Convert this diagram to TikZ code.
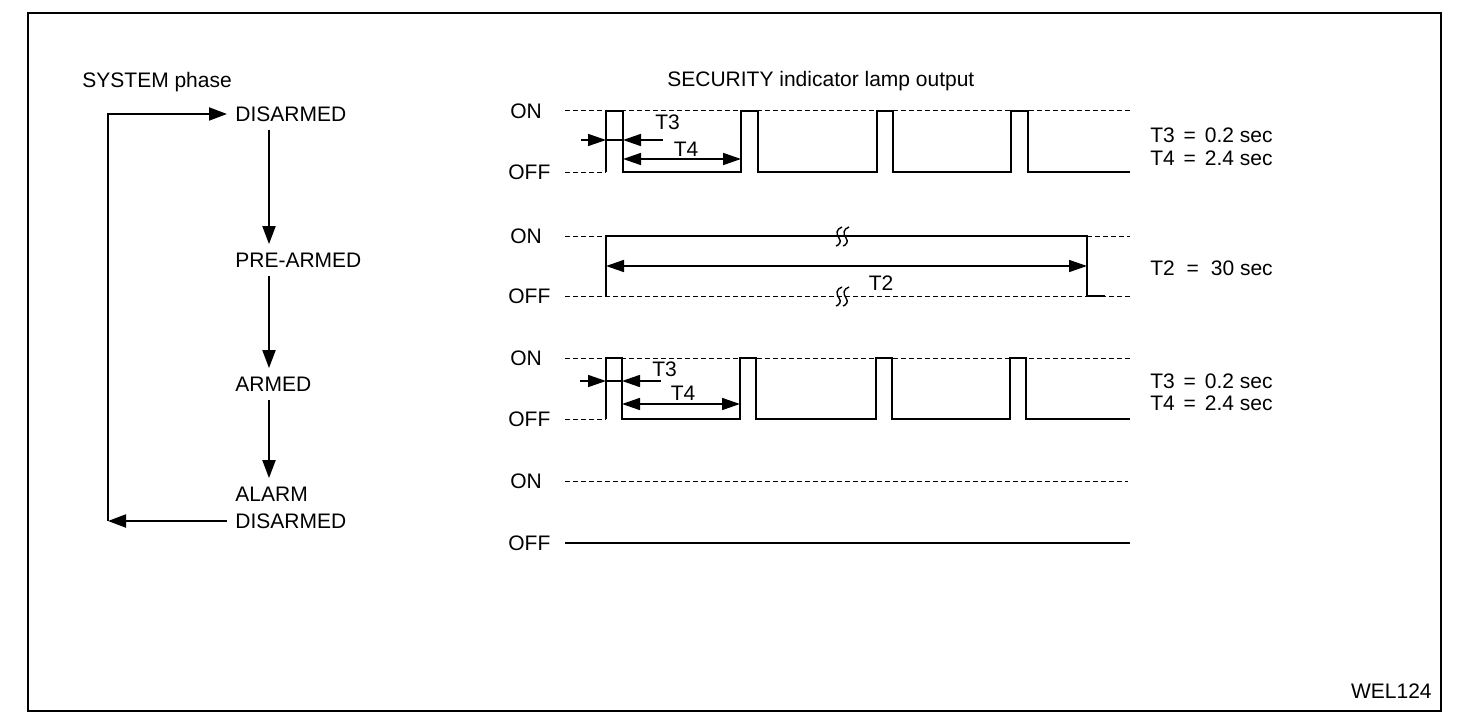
\documentclass[tikz,border=0pt]{standalone}
\usepackage{fontspec}
\setmainfont{Liberation Sans}
\usetikzlibrary{arrows.meta}
\begin{document}
\begin{tikzpicture}[x=0.5pt,y=-0.5pt,
  lbl/.style={font=\fontsize{10.5}{12}\selectfont, inner sep=0pt, anchor=west, text height=7.5pt, text depth=0pt},
  state/.style={lbl, inner xsep=4pt, inner ysep=4pt},
  arr/.style={-{Triangle[length=9pt,width=6.5pt]}, line width=1pt},
  tarr/.style={-{Triangle[length=9pt,width=6pt]}, line width=0.8pt},
  darr/.style={{Triangle[length=9pt,width=6pt]}-{Triangle[length=9pt,width=6pt]}, line width=0.8pt},
  refline/.style={line width=0.5pt, dash pattern=on 2.5pt off 1.5pt},
  wave/.style={line width=1pt, line join=miter},
  brk/.pic={
    \draw[line width=0.7pt] (-1,-9) .. controls (-7,-7) and (-7,-2) .. (-4,2) .. controls (-1,6) and (-4,9) .. (-7,10);
    \draw[line width=0.7pt] (6,-9) .. controls (0,-7) and (0,-2) .. (3,2) .. controls (6,6) and (3,9) .. (0,10);
  }
]
\useasboundingbox (0,0) rectangle (1472,722);
\draw[line width=1pt] (28,13) rectangle (1441,711);

% ---- SYSTEM phase ----
\node[lbl] (sys) at (82,80) {SYSTEM phase};
\node[state] (dis) at (227,114) {DISARMED};
\node[state] (pre) at (227,260) {PRE-ARMED};
\node[state] (arm) at (227,384) {ARMED};
\node[state] (ala) at (227,494) {ALARM};
\node[state] (alb) at (227,521) {DISARMED};
\coordinate (vx) at (269,0);
\coordinate (lx) at (108,0);
\draw[arr] (dis.south -| vx) -- (pre.north -| vx);
\draw[arr] (pre.south -| vx) -- (arm.north -| vx);
\draw[arr] (arm.south -| vx) -- (ala.north -| vx);
\draw[arr] (alb.west) -- (alb.west -| lx);
\draw[arr] (alb.west -| lx) |- (dis.west);

% ---- SECURITY indicator lamp output ----
\node[lbl] (sec) at (667,79) {SECURITY indicator lamp output};

\node[lbl] (on1) at (510,111) {ON};
\node[lbl] (off1) at (508,172) {OFF};
\node[lbl] (on2) at (510,236) {ON};
\node[lbl] (off2) at (508,296) {OFF};
\node[lbl] (on3) at (510,358) {ON};
\node[lbl] (off3) at (508,419) {OFF};
\node[lbl] (on4) at (510,481) {ON};
\node[lbl] (off4) at (508,543) {OFF};

% row 1
\draw[refline] (565,111) -- (1130,111);
\draw[refline] (565,172) -- (606,172);
\draw[wave] (606,172) -- (606,111) -- (623,111) -- (623,172) -- (741,172) -- (741,111) -- (758,111) -- (758,172)
  -- (877,172) -- (877,111) -- (893,111) -- (893,172) -- (1011,172) -- (1011,111) -- (1028,111) -- (1028,172) -- (1130,172);
\draw[tarr] (581,140) -- (606,140);
\draw[line width=0.8pt] (606,140) -- (623,140);
\draw[tarr] (663,140) -- (623,140);
\node[lbl] (t3a) at (655,122) {T3};
\draw[darr] (623,159) -- (741,159);
\node[lbl, anchor=center] (t4a) at (686,149) {T4};
\node[lbl] (eq1a) at (1150,135) {T3\hspace{1.5pt} = \hspace{1.5pt}0.2 sec};
\node[lbl] (eq1b) at (1150,158) {T4\hspace{1.5pt} = \hspace{1.5pt}2.4 sec};

% row 2
\draw[refline] (565,236) -- (606,236);
\draw[refline] (1087,236) -- (1130,236);
\draw[refline] (565,296) -- (1130,296);
\draw[wave] (606,296) -- (606,236) -- (1087,236) -- (1087,296) -- (1105,296);
\pic at (843,236) {brk};
\pic at (843,296) {brk};
\draw[darr] (606,266) -- (1087,266);
\node[lbl, anchor=center] (t2) at (881,283) {T2};
\node[lbl] (eq2) at (1150,268) {T2\hspace{3pt} = \hspace{3pt}30 sec};

% row 3
\draw[refline] (565,358) -- (1130,358);
\draw[refline] (565,419) -- (606,419);
\draw[wave] (606,419) -- (606,358) -- (622,358) -- (622,419) -- (740,419) -- (740,358) -- (756,358) -- (756,419)
  -- (876,419) -- (876,358) -- (892,358) -- (892,419) -- (1010,419) -- (1010,358) -- (1026,358) -- (1026,419) -- (1130,419);
\draw[tarr] (580,381) -- (606,381);
\draw[line width=0.8pt] (606,381) -- (622,381);
\draw[tarr] (661,381) -- (622,381);
\node[lbl] (t3b) at (652,369) {T3};
\draw[darr] (622,404) -- (740,404);
\node[lbl, anchor=center] (t4b) at (683,393) {T4};
\node[lbl] (eq3a) at (1150,381) {T3\hspace{1.5pt} = \hspace{1.5pt}0.2 sec};
\node[lbl] (eq3b) at (1150,403) {T4\hspace{1.5pt} = \hspace{1.5pt}2.4 sec};

% row 4
\draw[refline] (565,481) -- (1128,481);
\draw[wave] (565,543) -- (1130,543);

\node[lbl, anchor=east] (wel) at (1432,691) {WEL124};
\end{tikzpicture}
\end{document}
